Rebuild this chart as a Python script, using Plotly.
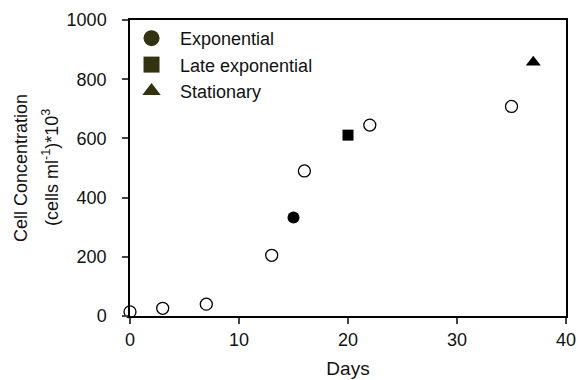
import plotly.graph_objects as go

# Data
open_days = [0, 3, 7, 13, 16, 22, 35]
open_conc = [14, 26, 40, 205, 490, 645, 708]
exp_day = [15]
exp_conc = [333]
late_day = [20]
late_conc = [611]
stat_day = [37]
stat_conc = [857]

x_ticks = [0, 10, 20, 30, 40]
y_ticks = [0, 200, 400, 600, 800, 1000]
y_title_lines = ["Cell Concentration", "(cells ml<sup>-1</sup>)*10<sup>3</sup>"]

legend_color = "#333310"
font_family = "Liberation Sans, Arial, sans-serif"

fig = go.Figure()

fig.add_trace(go.Scatter(x=open_days, y=open_conc, mode="markers", showlegend=False,
                         marker=dict(symbol="circle-open", size=12, color="black", line=dict(width=1.3)),
                         cliponaxis=False))
fig.add_trace(go.Scatter(x=exp_day, y=exp_conc, mode="markers", showlegend=False,
                         marker=dict(symbol="circle", size=12, color="black"), cliponaxis=False))
fig.add_trace(go.Scatter(x=late_day, y=late_conc, mode="markers", showlegend=False,
                         marker=dict(symbol="square", size=11, color="black"), cliponaxis=False))
fig.add_trace(go.Scatter(x=stat_day, y=stat_conc, mode="markers", showlegend=False,
                         marker=dict(symbol="triangle-up", size=13, color="black"), cliponaxis=False))

# legend entries
for name, sym in [("Exponential", "circle"), ("Late exponential", "square"), ("Stationary", "triangle-up")]:
    fig.add_trace(go.Scatter(x=[None], y=[None], mode="markers", name=name,
                             marker=dict(symbol=sym, size=16, color=legend_color)))

# y-axis title as two rotated lines
for txt, shift in zip(y_title_lines, [-109, -80]):
    fig.add_annotation(text=txt, xref="paper", yref="paper", x=0, y=0.5, xanchor="center",
                       yanchor="middle", textangle=-90, xshift=shift, showarrow=False,
                       font=dict(size=18, color="#111"))

fig.update_layout(
    width=578, height=380,
    margin=dict(l=130, r=12, t=20, b=64),
    plot_bgcolor="white", paper_bgcolor="white",
    font=dict(family=font_family, size=18, color="#111"),
    legend=dict(x=-0.016, y=1.0, xanchor="left", yanchor="top", bgcolor="rgba(0,0,0,0)",
                font=dict(size=18), itemwidth=47, tracegroupgap=0),
    xaxis=dict(range=[0, 40], tickvals=x_ticks, ticks="outside", ticklen=6, tickwidth=1.5,
               ticklabelstandoff=1, automargin=False,
               showline=True, linewidth=1.5, linecolor="black", mirror=True, showgrid=False,
               zeroline=False, title=dict(text="Days", font=dict(size=19), standoff=12)),
    yaxis=dict(range=[0, 1000], tickvals=y_ticks, ticks="outside", ticklen=6, tickwidth=1.5,
               ticklabelstandoff=12, automargin=False,
               showline=True, linewidth=1.5, linecolor="black", mirror=True, showgrid=False,
               zeroline=False),
)

fig.write_html("out.html")
